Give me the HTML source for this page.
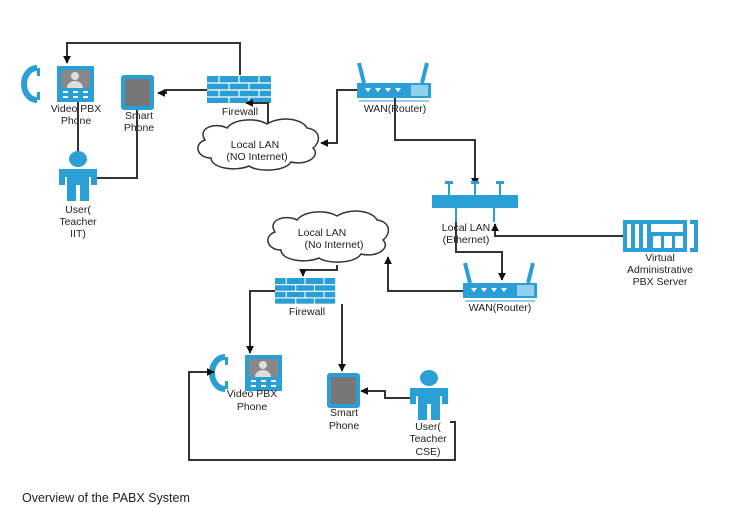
<!DOCTYPE html>
<html><head><meta charset="utf-8"><style>
html,body{margin:0;padding:0;background:#fff;}
svg{display:block;}
text{font-family:"Liberation Sans",Arial,sans-serif;font-size:10.5px;fill:#222;text-anchor:middle;}
.cap{font-size:12.5px;fill:#222;text-anchor:start;}
.l{fill:none;stroke:#333;stroke-width:2;}
.b{fill:#2a9fd6;}
</style></head><body>
<svg width="734" height="532" viewBox="0 0 734 532" xmlns="http://www.w3.org/2000/svg">
<defs>
<marker id="a" viewBox="0 0 10 10" refX="9" refY="5" markerWidth="4" markerHeight="4" orient="auto"><path d="M0,0L10,5L0,10z" fill="#111"/></marker>
<g id="fw"><rect x="0" y="0" width="64" height="27" class="b"/>
<g stroke="#fff" stroke-width="1.2"><path d="M0,7H64M0,14H64M0,21H64M12,0V7M32,0V7M52,0V7M22,7V14M42,7V14M12,14V21M32,14V21M52,14V21M22,21V27M42,21V27"/></g></g>
<g id="rt"><rect x="0" y="0" width="74" height="15" class="b"/><rect x="54" y="2" width="17" height="11" fill="#8fd0ee"/>
<path d="M7,0L2,-20M65,0L70,-20" stroke="#2a9fd6" stroke-width="4"/>
<g fill="#fff"><path d="M8,5h6l-3,4zM18,5h6l-3,4zM28,5h6l-3,4zM38,5h6l-3,4z"/></g>
<line x1="2" y1="18" x2="72" y2="18" stroke="#2a9fd6"/></g>
<g id="vp"><path d="M12,2 A13,16 0 0 0 12,34" stroke="#2a9fd6" stroke-width="6" fill="none"/>
<rect x="12" y="2" width="3" height="8" class="b"/><rect x="12" y="26" width="3" height="8" class="b"/>
<rect x="32" y="0" width="37" height="36" class="b"/><rect x="36" y="4" width="29" height="18" fill="#888"/>
<circle cx="50" cy="10" r="4" fill="#ddd"/><path d="M42,22a8,7 0 0 1 16,0z" fill="#ddd"/>
<g fill="#fff"><rect x="38" y="25" width="5" height="2"/><rect x="48" y="25" width="5" height="2"/><rect x="58" y="25" width="5" height="2"/><rect x="38" y="30" width="5" height="2"/><rect x="48" y="30" width="5" height="2"/><rect x="58" y="30" width="5" height="2"/></g></g>
<g id="sp"><rect x="0" y="0" width="33" height="35" rx="3" class="b"/><rect x="4" y="4" width="25" height="27" fill="#777"/></g>
<g id="us"><ellipse cx="19" cy="8" rx="9" ry="8" class="b"/><path d="M0,18H38V34H32V26H30V50H21V34H17V50H8V26H6V34H0z" class="b"/></g>
</defs>

<!-- top section -->
<path class="l" d="M240,75V43H67V63" marker-end="url(#a)"/>
<use href="#vp" x="25" y="66"/>
<use href="#sp" x="121" y="75"/>
<use href="#fw" x="207" y="76"/>
<use href="#rt" x="357" y="83"/>
<text x="76" y="112">Video PBX</text><text x="76" y="124">Phone</text>
<text x="139" y="119">Smart</text><text x="139" y="131">Phone</text>
<text x="240" y="115">Firewall</text>
<text x="395" y="112">WAN(Router)</text>
<path class="l" d="M207,90H166V93H158" marker-end="url(#a)"/>
<path class="l" d="M268,128V103H246" marker-end="url(#a)"/>
<path class="l" d="M357,90H337V143H321" marker-end="url(#a)"/>
<path class="l" d="M395,98V140H475V185" marker-end="url(#a)"/>
<path d="M205,140c-8,-12 10,-18 22,-12c8,-10 30,-10 40,-4c12,-8 35,-6 40,4c14,2 14,14 6,20c8,8 -6,18 -22,14c-6,10 -34,10 -42,4c-14,6 -38,2 -38,-8c-14,0 -18,-14 -6,-18z" fill="#fff" stroke="#333" stroke-width="1.5"/>
<text x="255" y="148">Local LAN</text><text x="257" y="160">(NO Internet)</text>
<path class="l" d="M78,152V102"/>
<path class="l" d="M97,178H137V110"/>
<use href="#us" x="59" y="151"/>
<text x="78" y="213">User(</text><text x="78" y="225">Teacher</text><text x="78" y="237">IIT)</text>

<!-- switch -->
<rect x="432" y="195" width="86" height="13" class="b"/>
<g stroke="#2a9fd6" stroke-width="2"><path d="M449,195V183M475,195V183M500,195V183M456,208V222M494,208V222"/></g>
<g class="b"><rect x="445" y="181" width="8" height="3"/><rect x="471" y="181" width="8" height="3"/><rect x="496" y="181" width="8" height="3"/></g>
<text x="466" y="231">Local LAN</text><text x="466" y="243">(Ethernet)</text>
<path class="l" d="M623,236H495V224" marker-end="url(#a)"/>
<path class="l" d="M456,222V252H502V280" marker-end="url(#a)"/>
<!-- server -->
<g><rect x="623" y="220" width="64" height="32" class="b"/>
<g fill="#fff"><rect x="627" y="224" width="4" height="24"/><rect x="635" y="224" width="4" height="24"/><rect x="643" y="224" width="4" height="24"/><rect x="651" y="224" width="32" height="8"/><rect x="653" y="236" width="8" height="12"/><rect x="664" y="236" width="8" height="12"/><rect x="675" y="236" width="8" height="12"/></g>
<path d="M690,222h6v28h-6" stroke="#2a9fd6" stroke-width="4" fill="none"/></g>
<text x="660" y="261">Virtual</text><text x="660" y="273">Administrative</text><text x="660" y="285">PBX Server</text>

<!-- bottom -->
<use href="#rt" x="463" y="283"/>
<text x="500" y="311">WAN(Router)</text>
<path class="l" d="M463,291H388V257" marker-end="url(#a)"/>
<path d="M275,232c-8,-12 10,-18 22,-12c8,-10 30,-10 40,-4c12,-8 35,-6 40,4c14,2 14,14 6,20c8,8 -6,18 -22,14c-6,10 -34,10 -42,4c-14,6 -38,2 -38,-8c-14,0 -18,-14 -6,-18z" fill="#fff" stroke="#333" stroke-width="1.5"/>
<text x="322" y="236">Local LAN</text><text x="334" y="248">(No Internet)</text>
<path class="l" d="M337,265V270H303V276" marker-end="url(#a)"/>
<use href="#fw" x="275" y="278" transform="translate(275,278) scale(0.94,0.95) translate(-275,-278)"/>
<text x="307" y="315">Firewall</text>
<path class="l" d="M275,291H250V353" marker-end="url(#a)"/>
<path class="l" d="M342,304V371" marker-end="url(#a)"/>
<use href="#vp" x="213" y="355"/>
<text x="252" y="397">Video PBX</text><text x="252" y="410">Phone</text>
<use href="#sp" x="327" y="373"/>
<text x="344" y="416">Smart</text><text x="344" y="429">Phone</text>
<use href="#us" x="410" y="370"/>
<path class="l" d="M410,398H385V391H361" marker-end="url(#a)"/>
<text x="428" y="430">User(</text><text x="428" y="442">Teacher</text><text x="428" y="455">CSE)</text>
<path class="l" d="M450,422H455V460H189V372H214" marker-end="url(#a)"/>

<text class="cap" x="22" y="502">Overview of the PABX System</text>
</svg>
</body></html>
